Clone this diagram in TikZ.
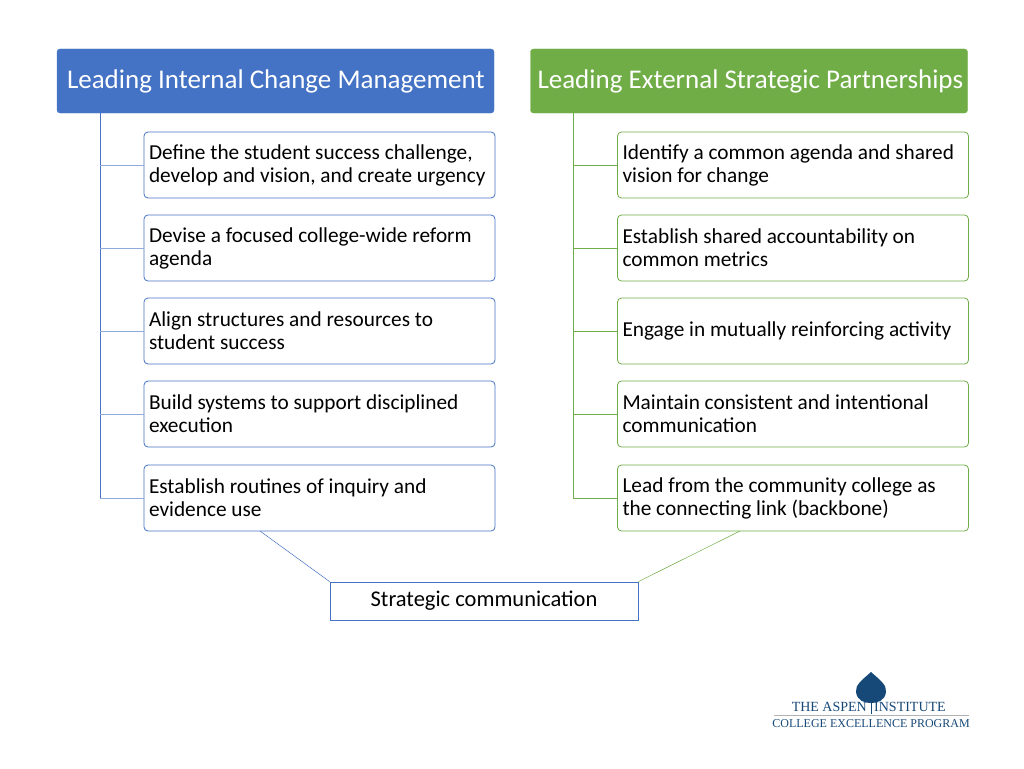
\documentclass[tikz,border=0pt]{standalone}
\usepackage{fontspec}
\setmainfont{Carlito}
\newfontfamily\logofont{Liberation Serif}
\definecolor{intblue}{RGB}{68, 114, 196}
\definecolor{extgreen}{RGB}{112, 173, 71}
\definecolor{aspenblue}{RGB}{22, 72, 120}
\tikzset{
  header/.style={draw=#1, fill=#1, rounded corners=3pt, minimum width=437pt, minimum height=64pt},
  headtext/.style={anchor=west, inner sep=0pt, text=white, font=\fontsize{27}{30}\selectfont},
  item/.style={draw=#1, fill=white, rounded corners=4pt, minimum width=351pt, minimum height=66pt, text width=341pt, inner xsep=5pt, align=flush left, font=\fontsize{21.3}{23}\selectfont, line width=0.8pt},
  stem/.style={draw=#1, line width=0.8pt}
}
\begin{document}
\begin{tikzpicture}[x=1pt, y=-1pt]
  \useasboundingbox (0,0) rectangle (1024,768);
  % headers
  \node[header=intblue] (intHead) at (275.5,81) {};
  \node[headtext] (intTitle) at ([xshift=10pt]intHead.west) {Leading Internal Change Management};
  \node[header=extgreen] (extHead) at (749,81) {};
  \node[headtext] (extTitle) at ([xshift=7pt]extHead.west) {Leading External Strategic Partnerships};
  % internal items
  \node[item=intblue] (int1) at (319.5,165) {Define the student success challenge,\\develop and vision, and create urgency};
  \node[item=intblue] (int2) at (319.5,248) {Devise a focused college-wide reform\\agenda};
  \node[item=intblue] (int3) at (319.5,331) {Align structures and resources to\\student success};
  \node[item=intblue] (int4) at (319.5,414) {Build systems to support disciplined\\execution};
  \node[item=intblue] (int5) at (319.5,498) {Establish routines of inquiry and\\evidence use};
  % external items
  \node[item=extgreen] (ext1) at (793,165) {Identify a common agenda and shared\\vision for change};
  \node[item=extgreen] (ext2) at (793,248) {Establish shared accountability on\\common metrics};
  \node[item=extgreen] (ext3) at (793,331) {Engage in mutually reinforcing activity};
  \node[item=extgreen] (ext4) at (793,414) {Maintain consistent and intentional\\communication};
  \node[item=extgreen] (ext5) at (793,498) {Lead from the community college as\\the connecting link (backbone)};
  % stems
  \coordinate (intTop) at (100,113);
  \coordinate (extTop) at (573,113);
  \draw[stem=intblue] (intTop) -- (intTop |- int5.west);
  \draw[stem=extgreen] (extTop) -- (extTop |- ext5.west);
  \foreach \i in {1,...,5} {
    \draw[stem=intblue!60] (intTop |- int\i.west) -- (int\i.west);
    \draw[stem=extgreen] (extTop |- ext\i.west) -- (ext\i.west);
  }
  % bottom
  \node[draw=intblue, line width=0.8pt, minimum width=308pt, minimum height=38pt, font=\fontsize{22.5}{26}\selectfont] (comm) at (484,601) {Strategic communication};
  \draw[intblue, line width=0.5pt] (260,531) -- (comm.north west);
  \draw[extgreen, line width=0.5pt] (740,531) -- (comm.north east);
  % logo
  \fill[aspenblue] (871,672) .. controls (880,680) and (887,685) .. (886,692) .. controls (885,701) and (877,703) .. (871,703) .. controls (865,703) and (857,701) .. (856,692) .. controls (855,685) and (862,680) .. (871,672);
  \draw[aspenblue, line width=0.6pt] (871,700) -- (871,714);
  \node[font=\logofont\fontsize{14}{16}\selectfont, text=aspenblue, anchor=east, inner sep=0pt] (aspenL) at (867,707) {THE ASPEN};
  \node[font=\logofont\fontsize{14}{16}\selectfont, text=aspenblue, anchor=west, inner sep=0pt] (aspenR) at (874,707) {INSTITUTE};
  \draw[gray!60, line width=0.6pt] (774,715.5) -- (969,715.5);
  \node[font=\logofont\fontsize{12}{14}\selectfont, text=aspenblue, inner sep=0pt] (cep) at (871,724) {COLLEGE EXCELLENCE PROGRAM};
\end{tikzpicture}
\end{document}
